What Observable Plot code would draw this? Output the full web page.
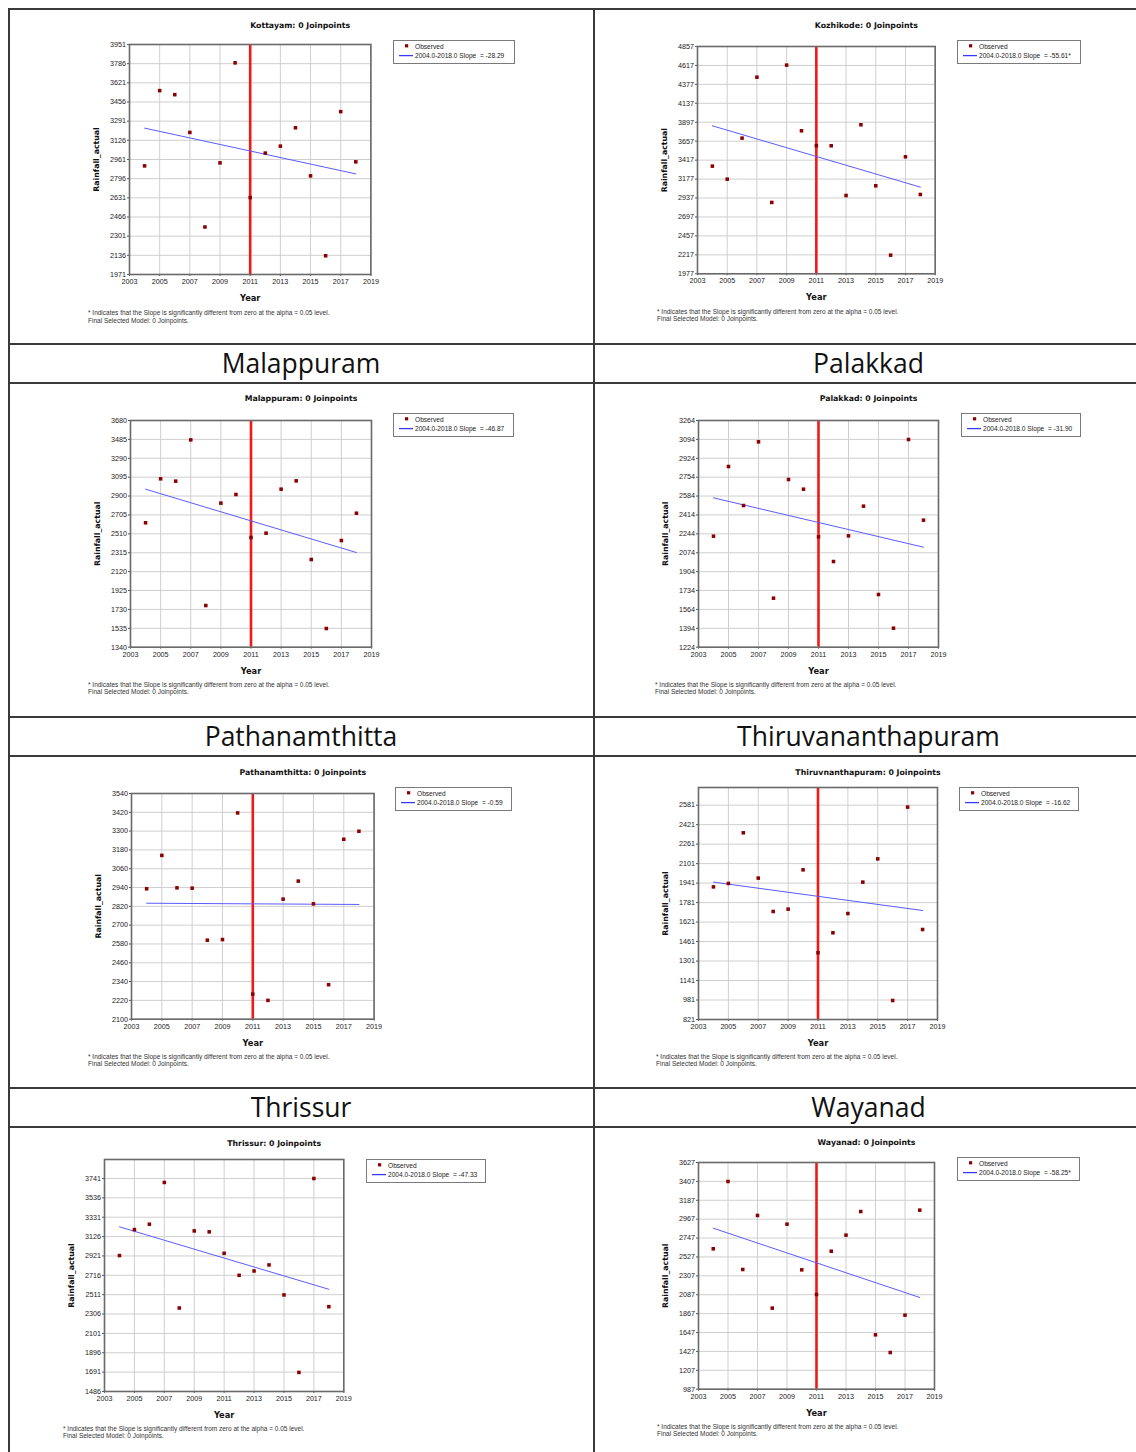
<!DOCTYPE html>
<html>
<head>
<meta charset="utf-8">
<script src="https://cdn.jsdelivr.net/npm/d3@7"></script>
<script src="https://cdn.jsdelivr.net/npm/@observablehq/plot@0.6"></script>
<style>
  html, body { margin: 0; padding: 0; background: #fff; }
  #page { position: relative; width: 1136px; height: 1452px; overflow: hidden; background: #fff; font-family: "Liberation Sans", Arial, sans-serif; }
  .hline, .vline { position: absolute; background: #3a3a3a; }
  .band { position: absolute; display: flex; align-items: center; justify-content: center; font-family: "Open Sans", sans-serif; font-size: 26.5px; color: #111; }
  .legend { position: absolute; box-sizing: border-box; border: 1.5px solid #7a7a7a; background: #fff; font-family: "Liberation Sans", Arial, sans-serif; font-size: 6.6px; color: #222; }
  .legend span { position: absolute; left: 21px; white-space: pre; line-height: 8px; }
  .legend svg { position: absolute; left: 0; top: 0; }
  .note { position: absolute; font-family: "Liberation Sans", Arial, sans-serif; font-size: 6.5px; line-height: 7.6px; color: #333; white-space: pre; }
  .panel svg { overflow: visible; }
</style>
</head>
<body>
<div id="page"></div>
<script>
// ---------------- data ----------------
const years = [2004, 2005, 2006, 2007, 2008, 2009, 2010, 2011, 2012, 2013, 2014, 2015, 2016, 2017, 2018];
const xTicks = [2003, 2005, 2007, 2009, 2011, 2013, 2015, 2017, 2019];
const trendYears = [2004, 2018];
const breakYear = [2011];

const kottayam           = [2906, 3554, 3519, 3194, 2380, 2932, 3793, 2633, 3016, 3076, 3234, 2820, 2132, 3373, 2941];
const kozhikode          = [3341, 3176, 3696, 4468, 2881, 4621, 3789, 3599, 3599, 2969, 3865, 3092, 2213, 3459, 2982];
const malappuram         = [2624, 3078, 3054, 3480, 1770, 2827, 2916, 2472, 2517, 2971, 3057, 2245, 1533, 2441, 2723];
const palakkad           = [2223, 2850, 2499, 3072, 1665, 2733, 2646, 2217, 1995, 2226, 2493, 1698, 1395, 3093, 2367];
const pathanamthitta     = [2932, 3145, 2938, 2936, 2604, 2608, 3416, 2260, 2220, 2866, 2981, 2836, 2320, 3248, 3299];
const thiruvananthapuram = [1910, 1938, 2354, 1982, 1708, 1727, 2050, 1369, 1533, 1691, 1949, 2140, 977, 2565, 1560];
const thrissur           = [2925, 3200, 3257, 3699, 2370, 3186, 3176, 2949, 2716, 2762, 2826, 2508, 1688, 3741, 2384];
const wayanad            = [2622, 3406, 2381, 3010, 1931, 2909, 2377, 2090, 2594, 2781, 3056, 1620, 1414, 1849, 3072];

// fitted trend values at 2004 and 2018
const trendKottayam           = [3231, 2837];
const trendKozhikode          = [3852, 3075];
const trendMalappuram         = [2971, 2317];
const trendPalakkad           = [2568, 2124];
const trendPathanamthitta     = [2840, 2832];
const trendThiruvananthapuram = [1949, 1716];
const trendThrissur           = [3229, 2568];
const trendWayanad            = [2862, 2055];

// y axis tick labels
const yTicksKottayam           = [1971, 2136, 2301, 2466, 2631, 2796, 2961, 3126, 3291, 3456, 3621, 3786, 3951];
const yTicksKozhikode          = [1977, 2217, 2457, 2697, 2937, 3177, 3417, 3657, 3897, 4137, 4377, 4617, 4857];
const yTicksMalappuram         = [1340, 1535, 1730, 1925, 2120, 2315, 2510, 2705, 2900, 3095, 3290, 3485, 3680];
const yTicksPalakkad           = [1224, 1394, 1564, 1734, 1904, 2074, 2244, 2414, 2584, 2754, 2924, 3094, 3264];
const yTicksPathanamthitta     = [2100, 2220, 2340, 2460, 2580, 2700, 2820, 2940, 3060, 3180, 3300, 3420, 3540];
const yTicksThiruvananthapuram = [821, 981, 1141, 1301, 1461, 1621, 1781, 1941, 2101, 2261, 2421, 2581];
const yTicksThrissur           = [1486, 1691, 1896, 2101, 2306, 2511, 2716, 2921, 3126, 3331, 3536, 3741];
const yTicksWayanad            = [987, 1207, 1427, 1647, 1867, 2087, 2307, 2527, 2747, 2967, 3187, 3407, 3627];

// y domain tops (panels where the top is not a labelled tick)
const yTopThiruvananthapuram = 2726;
const yTopThrissur = 3942;

const titles = ["Kottayam: 0 Joinpoints", "Kozhikode: 0 Joinpoints", "Malappuram: 0 Joinpoints", "Palakkad: 0 Joinpoints",
  "Pathanamthitta: 0 Joinpoints", "Thiruvnanthapuram: 0 Joinpoints", "Thrissur: 0 Joinpoints", "Wayanad: 0 Joinpoints"];
const slopes = ["-28.29", "-55.61*", "-46.87", "-31.90", "-0.59", "-16.62", "-47.33", "-58.25*"];
const bandLabelsLeft = ["Malappuram", "Pathanamthitta", "Thrissur"];
const bandLabelsRight = ["Palakkad", "Thiruvananthapuram", "Wayanad"];
const noteLines = ["* Indicates that the Slope is significantly different from zero at the alpha = 0.05 level.", "Final Selected Model: 0 Joinpoints."];

// ---------------- layout (positions only) ----------------
const layout = [
  {frame: [129.3, 44.3, 370.7, 274.3], titleY: 25,    legend: [393, 40, 515, 64],    note: [88, 309]},
  {frame: [697.3, 45.7, 935, 273],     titleY: 24.7,  legend: [957, 40, 1081, 64],   note: [657, 307.5]},
  {frame: [130, 420, 371, 646.7],      titleY: 398,   legend: [393, 413, 514, 437],  note: [88, 680.8]},
  {frame: [697.7, 420, 937.7, 646.7],  titleY: 398,   legend: [961, 413, 1081, 437], note: [655, 680.8]},
  {frame: [130.7, 793, 373.3, 1018.7], titleY: 771.7, legend: [395, 787, 512, 811],  note: [88, 1052.8]},
  {frame: [697.7, 786.7, 936.7, 1018.7], titleY: 771.7, legend: [959, 787, 1079, 811], note: [656, 1052.8]},
  {frame: [104, 1158.7, 343.3, 1390.7], titleY: 1143, legend: [366, 1159, 486, 1183], note: [63, 1424.5]},
  {frame: [698.3, 1162, 934.3, 1388.7], titleY: 1141.7, legend: [957, 1157, 1080, 1181], note: [657, 1422.8]}
];

const panels = [
  {values: kottayam, trend: trendKottayam, ticks: yTicksKottayam, top: null, rule: true},
  {values: kozhikode, trend: trendKozhikode, ticks: yTicksKozhikode, top: null, rule: true},
  {values: malappuram, trend: trendMalappuram, ticks: yTicksMalappuram, top: null, rule: true},
  {values: palakkad, trend: trendPalakkad, ticks: yTicksPalakkad, top: null, rule: true},
  {values: pathanamthitta, trend: trendPathanamthitta, ticks: yTicksPathanamthitta, top: null, rule: true},
  {values: thiruvananthapuram, trend: trendThiruvananthapuram, ticks: yTicksThiruvananthapuram, top: yTopThiruvananthapuram, rule: true},
  {values: thrissur, trend: trendThrissur, ticks: yTicksThrissur, top: yTopThrissur, rule: false},
  {values: wayanad, trend: trendWayanad, ticks: yTicksWayanad, top: null, rule: true}
];

const page = document.getElementById("page");

// table borders
function line(cls, x, y, w, h) {
  const d = document.createElement("div");
  d.className = cls;
  Object.assign(d.style, {left: x + "px", top: y + "px", width: w + "px", height: h + "px"});
  page.appendChild(d);
}
line("vline", 7.5, 8, 2, 1452);
line("vline", 592.5, 8, 2, 1452);
line("hline", 7.5, 7.5, 1136, 2);
[342.5, 381.5, 715.5, 754.5, 1086.5, 1125.5].forEach(y => line("hline", 7.5, y, 1136, 2));

// band labels
const bandTops = [344, 717, 1088];
bandTops.forEach((t, i) => {
  [[bandLabelsLeft[i], 9.5, 583], [bandLabelsRight[i], 594.5, 548]].forEach(([txt, l, w]) => {
    const d = document.createElement("div");
    d.className = "band";
    d.textContent = txt;
    Object.assign(d.style, {left: l + "px", top: t + "px", width: w + "px", height: "37px"});
    page.appendChild(d);
  });
});

// panels
const ML = 50, MR = 8, MT = 32, MB = 34;
panels.forEach((p, i) => {
  const L = layout[i];
  const [l, t, r, b] = L.frame;
  const data = years.map((year, k) => ({year, value: p.values[k]}));
  const trend = trendYears.map((year, k) => ({year, value: p.trend[k]}));
  const yDomain = [p.ticks[0], p.top ?? p.ticks[p.ticks.length - 1]];
  const marks = [
    Plot.gridX(xTicks, {stroke: "#cfcfcf", strokeOpacity: 1, strokeWidth: 1}),
    Plot.gridY(p.ticks, {stroke: "#cfcfcf", strokeOpacity: 1, strokeWidth: 1}),
    Plot.axisX(xTicks, {tickSize: 2, tickPadding: 2.5, tickFormat: d => String(d), label: null, fontSize: 7.2, stroke: "#555", fill: "#1a1a1a"}),
    Plot.axisY(p.ticks, {tickSize: 2, tickPadding: 1.5, tickFormat: d => String(d), label: null, fontSize: 7.2, stroke: "#555", fill: "#1a1a1a"})
  ];
  if (p.rule) marks.push(Plot.ruleX(breakYear, {stroke: "#f21818", strokeWidth: 2.6}));
  marks.push(
    Plot.line(trend, {x: "year", y: "value", stroke: "#5a5aff", strokeWidth: 1}),
    Plot.dot(data, {x: "year", y: "value", symbol: "square", r: 2, fill: "#8b0000", stroke: null}),
    Plot.frame({stroke: "#6a6a6a", strokeWidth: 1.6}),
    Plot.text([titles[i]], {frameAnchor: "top", dx: 50, dy: L.titleY - t, textAnchor: "middle", lineAnchor: "middle",
      fontWeight: "bold", fontSize: 7.8, fontFamily: "DejaVu Sans", fill: "#111"}),
    Plot.text(["Year"], {frameAnchor: "bottom", dy: 24, textAnchor: "middle", lineAnchor: "middle",
      fontWeight: "bold", fontSize: 8.3, fontFamily: "DejaVu Sans", fill: "#111"}),
    Plot.text(["Rainfall_actual"], {frameAnchor: "left", dx: -33.5, rotate: -90, textAnchor: "middle", lineAnchor: "middle",
      fontWeight: "bold", fontSize: 7.8, fontFamily: "DejaVu Sans", fill: "#111"})
  );
  const svg = Plot.plot({
    width: (r - l) + ML + MR,
    height: (b - t) + MT + MB,
    marginLeft: ML, marginRight: MR, marginTop: MT, marginBottom: MB,
    x: {domain: [2003, 2019]},
    y: {domain: yDomain},
    style: {fontFamily: "Liberation Sans, Arial, sans-serif", fontSize: "7.2px", color: "#222", background: "transparent", overflow: "visible"},
    marks
  });
  const wrap = document.createElement("div");
  wrap.className = "panel";
  Object.assign(wrap.style, {position: "absolute", left: (l - ML) + "px", top: (t - MT) + "px"});
  wrap.appendChild(svg);
  page.appendChild(wrap);

  // legend
  const [ll, lt, lr, lb] = L.legend;
  const lg = document.createElement("div");
  lg.className = "legend";
  Object.assign(lg.style, {left: ll + "px", top: lt + "px", width: (lr - ll) + "px", height: (lb - lt) + "px"});
  lg.innerHTML = `<svg width="${lr - ll}" height="${lb - lt}"><rect x="11" y="3.2" width="3.2" height="3.2" fill="#8b0000"/><line x1="5" x2="19" y1="14.6" y2="14.6" stroke="#3a3aff" stroke-width="1.3"/></svg>` +
    `<span style="top:2.3px">Observed</span><span style="top:10.6px">2004.0-2018.0 Slope  = ${slopes[i]}</span>`;
  page.appendChild(lg);

  // footnote
  const nt = document.createElement("div");
  nt.className = "note";
  Object.assign(nt.style, {left: L.note[0] + "px", top: L.note[1] + "px"});
  nt.textContent = noteLines.join("\n");
  page.appendChild(nt);
});
</script>
</body>
</html>
